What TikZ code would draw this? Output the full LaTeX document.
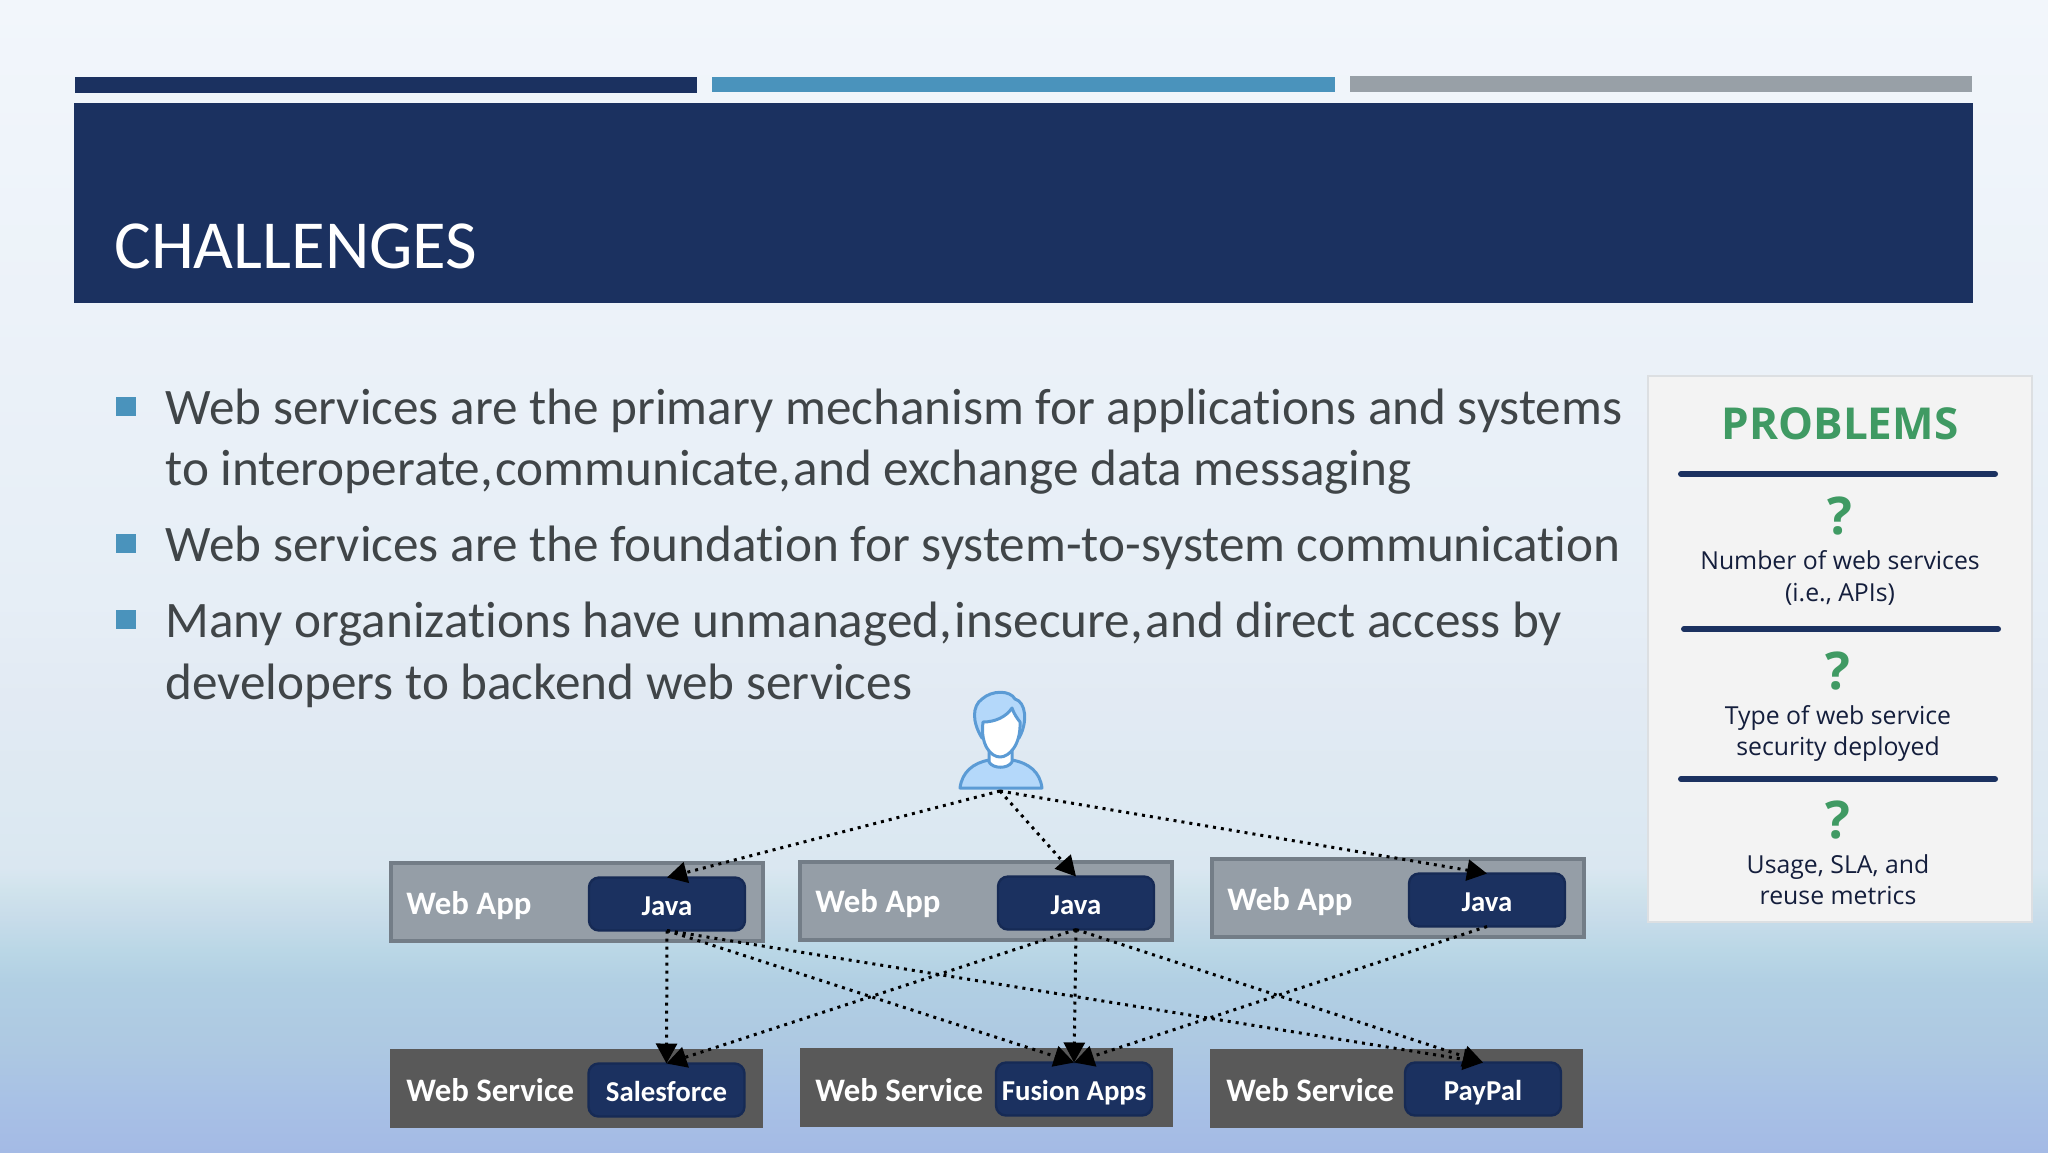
\documentclass[tikz,border=0pt]{standalone}
\usepackage{fontspec}
\setmainfont{Carlito}[Ligatures=CommonOff]
\newfontfamily\panelfont{Open Sans}
\usetikzlibrary{arrows.meta}

\definecolor{navy}{HTML}{1B3160}
\definecolor{chipline}{HTML}{162A55}
\definecolor{barblue}{HTML}{4A93BC}
\definecolor{bargray}{HTML}{98A0A7}
\definecolor{appfill}{HTML}{959EA7}
\definecolor{appline}{HTML}{737D87}
\definecolor{servicefill}{HTML}{595959}
\definecolor{bodytext}{HTML}{404548}
\definecolor{probgreen}{HTML}{3F9A63}
\definecolor{probtext}{HTML}{141E3C}
\definecolor{panelfill}{HTML}{F3F3F3}
\definecolor{panelline}{HTML}{DCDFE2}
\definecolor{userline}{HTML}{5B9BD5}
\definecolor{userfill}{HTML}{B4D8FA}
\definecolor{bga}{HTML}{A4BAE5}
\definecolor{bgb}{HTML}{A8C1E5}
\definecolor{bgc}{HTML}{ADC8E2}
\definecolor{bgd}{HTML}{B1CFE3}
\definecolor{bge}{HTML}{BAD7E6}
\definecolor{bgf}{HTML}{C8DCEA}
\definecolor{bgg}{HTML}{D0E3EC}
\definecolor{bgh}{HTML}{DAE7F1}
\definecolor{bgi}{HTML}{DDE9F2}
\definecolor{bgj}{HTML}{E2EAF3}
\definecolor{bgk}{HTML}{E6EEF6}
\definecolor{bgl}{HTML}{ECF2F9}
\definecolor{bgm}{HTML}{F2F6FB}

\pgfdeclareverticalshading{slidebg}{100bp}{
    color(0bp)=(bga);
    color(25bp)=(bga);
    color(27.26bp)=(bgb);
    color(29.43bp)=(bgc);
    color(32.33bp)=(bgd);
    color(33.77bp)=(bge);
    color(35.2bp)=(bgf);
    color(36.37bp)=(bgg);
    color(37.37bp)=(bgh);
    color(40.28bp)=(bgi);
    color(44.6bp)=(bgj);
    color(49bp)=(bgk);
    color(62bp)=(bgl);
    color(75bp)=(bgm);
    color(100bp)=(bgm)}

\newcommand{\tightcomma}{,\kern-4.5pt\ }

\tikzset{
    bodyline/.style={anchor=base west, inner sep=0pt, text=bodytext, font=\fontsize{25.6}{30}\selectfont},
    bullet/.style={fill=barblue, inner sep=0pt, minimum width=10pt, minimum height=9.5pt},
    appbox/.style={draw=appline, fill=appfill, line width=2pt, outer sep=0pt, minimum width=186pt, minimum height=39pt},
    servicebox/.style={fill=servicefill, inner sep=0pt, outer sep=0pt, minimum width=186.5pt, minimum height=39.5pt},
    chip/.style={draw=chipline, fill=navy, line width=1.2pt, rounded corners=5pt, outer sep=0pt, inner sep=0pt,
        minimum width=78pt, minimum height=26.5pt, text height=13.5pt, text depth=2.2pt, text=white, font=\fontsize{14.4}{16}\bfseries\selectfont},
    boxlabel/.style={anchor=west, inner sep=0pt, text=white, font=\fontsize{16.4}{20}\bfseries\selectfont},
    wire/.style={line width=1.5pt, dash pattern=on 1.5pt off 2.5pt, -{Triangle[length=10pt,width=10.5pt]}},
    rule/.style={navy, line width=3pt, line cap=round},
    probtitle/.style={inner sep=0pt, text=probgreen, font=\panelfont\fontsize{22}{28}\bfseries\selectfont},
    probmark/.style={inner sep=0pt, text=probgreen, font=\panelfont\fontsize{26}{30}\bfseries\selectfont},
    probnote/.style={inner sep=0pt, align=center, text=probtext, font=\panelfont\fontsize{12.4}{15.6}\selectfont},
    usershape/.style={draw=userline, line width=1.5pt, line join=round}
}

\begin{document}
\begin{tikzpicture}[x=0.5pt, y=-0.5pt]
    \useasboundingbox (0,0) rectangle (2048,1152);
    \path[shading=slidebg] (0,0) rectangle (2048,1152); % Background

    % Header
    \path[fill=navy] (75,77) rectangle (697,93);
    \path[fill=barblue] (712,77) rectangle (1335,92);
    \path[fill=bargray] (1350,76) rectangle (1972,92);
    \path[fill=navy] (74,103) rectangle (1973,303);
    \node[anchor=base west, inner sep=0pt, text=white, font=\fontsize{34.4}{40}\selectfont] (title) at (114,268.5) {CHALLENGES};

    % Bullets
    \node[bullet] (bullet1) at (126,406) {};
    \node[bullet] (bullet2) at (126,543) {};
    \node[bullet] (bullet3) at (126,619) {};
    \node[bodyline] (line1) at (165,424) {Web services are the primary mechanism for applications and systems};
    \node[bodyline] (line2) at (165,485) {to interoperate\tightcomma communicate\tightcomma and exchange data messaging};
    \node[bodyline] (line3) at (165,561) {Web services are the foundation for system-to-system communication};
    \node[bodyline] (line4) at (165,637) {Many organizations have unmanaged\tightcomma insecure\tightcomma and direct access by};
    \node[bodyline] (line5) at (165,699) {developers to backend web services};

    % Problems panel
    \node[draw=panelline, fill=panelfill, line width=1pt, minimum width=192pt, minimum height=273pt, outer sep=0pt] (panel) at (1839.5,648.5) {};
    \node[probtitle] (problems) at (1840,424) {PROBLEMS};
    \draw[rule] (1681,474) -- (1995,474);
    \node[probmark] (mark1) at (1840,516) {?};
    \node[probnote] (note1) at (1840,578) {Number of web services\\(i.e., APIs)};
    \draw[rule] (1684,629) -- (1998,629);
    \node[probmark] (mark2) at (1838,671) {?};
    \node[probnote] (note2) at (1838,733.5) {Type of web service\\security deployed};
    \draw[rule] (1681,779) -- (1995,779);
    \node[probmark] (mark3) at (1838,820) {?};
    \node[probnote] (note3) at (1838,880) {Usage, SLA, and\\reuse metrics};

    % User
    \draw[usershape, fill=userfill] (960,788) .. controls (962,772) and (973,763) .. (989,760) .. controls (993,766) and (1008,766) .. (1012,760) .. controls (1029,763) and (1040,772) .. (1042,788) -- cycle;
    \draw[usershape, fill=white] (989,750) -- (989,762) .. controls (993,769) and (1008,769) .. (1012,762) -- (1012,750) -- cycle;
    \draw[usershape, fill=userfill] (982,738) .. controls (972,722) and (972,706) .. (982,699) .. controls (992,690) and (1010,690) .. (1015,699) .. controls (1026,702) and (1028,722) .. (1019,738) -- cycle;
    \draw[usershape, fill=white] (983,722) .. controls (995,722) and (1006,717) .. (1012,708) .. controls (1014,714) and (1017,718) .. (1020,722) .. controls (1021,745) and (1009,757) .. (1000,757) .. controls (991,757) and (980,745) .. (983,722) -- cycle;
    \coordinate (user) at (1000,791);

    % Web apps
    \node[appbox] (app1) at (577,902) {};
    \node[appbox] (app2) at (986,901) {};
    \node[appbox] (app3) at (1398,898) {};
    \node[boxlabel] (applabel1) at (406,906) {Web App};
    \node[boxlabel] (applabel2) at (815,904) {Web App};
    \node[boxlabel] (applabel3) at (1227,902) {Web App};
    \node[chip] (java1) at (667,904) {Java};
    \node[chip] (java2) at (1076,903) {Java};
    \node[chip] (java3) at (1487,900) {Java};

    % Web services
    \node[servicebox] (service1) at (576.5,1088) {};
    \node[servicebox] (service2) at (986,1087.5) {};
    \node[servicebox] (service3) at (1396,1088.5) {};
    \node[boxlabel] (servicelabel1) at (406,1090) {Web Service};
    \node[boxlabel] (servicelabel2) at (815,1090) {Web Service};
    \node[boxlabel] (servicelabel3) at (1226,1090) {Web Service};
    \node[chip] (salesforce) at (666.5,1090) {Salesforce};
    \node[chip] (fusion) at (1074,1089) {Fusion Apps};
    \node[chip] (paypal) at (1483,1089) {PayPal};

    % Calls
    \draw[wire] (user) -- (java1.north);
    \draw[wire] (user) -- (java2.north);
    \draw[wire] (user) -- (java3.north);
    \foreach \from in {java1,java2} {
        \draw[wire] (\from.south) -- (salesforce.north);
        \draw[wire] (\from.south) -- (fusion.north);
        \draw[wire] (\from.south) -- (paypal.north);
    }
    \draw[wire] (java3.south) -- (fusion.north);
\end{tikzpicture}
\end{document}
